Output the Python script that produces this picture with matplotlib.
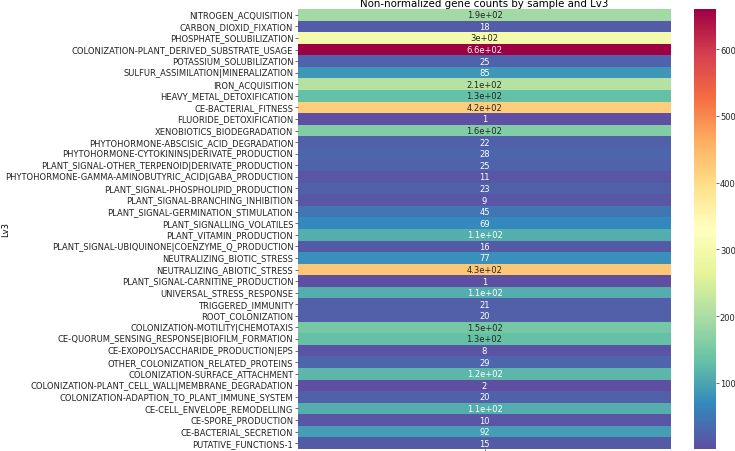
import numpy as np
import pandas as pd
import matplotlib
matplotlib.use("Agg")
import matplotlib.pyplot as plt
import seaborn as sns

# Lv3 categories (rows of the heatmap, top to bottom)
lv3 = [
    "NITROGEN_ACQUISITION",
    "CARBON_DIOXID_FIXATION",
    "PHOSPHATE_SOLUBILIZATION",
    "COLONIZATION-PLANT_DERIVED_SUBSTRATE_USAGE",
    "POTASSIUM_SOLUBILIZATION",
    "SULFUR_ASSIMILATION|MINERALIZATION",
    "IRON_ACQUISITION",
    "HEAVY_METAL_DETOXIFICATION",
    "CE-BACTERIAL_FITNESS",
    "FLUORIDE_DETOXIFICATION",
    "XENOBIOTICS_BIODEGRADATION",
    "PHYTOHORMONE-ABSCISIC_ACID_DEGRADATION",
    "PHYTOHORMONE-CYTOKININS|DERIVATE_PRODUCTION",
    "PLANT_SIGNAL-OTHER_TERPENOID|DERIVATE_PRODUCTION",
    "PHYTOHORMONE-GAMMA-AMINOBUTYRIC_ACID|GABA_PRODUCTION",
    "PLANT_SIGNAL-PHOSPHOLIPID_PRODUCTION",
    "PLANT_SIGNAL-BRANCHING_INHIBITION",
    "PLANT_SIGNAL-GERMINATION_STIMULATION",
    "PLANT_SIGNALLING_VOLATILES",
    "PLANT_VITAMIN_PRODUCTION",
    "PLANT_SIGNAL-UBIQUINONE|COENZYME_Q_PRODUCTION",
    "NEUTRALIZING_BIOTIC_STRESS",
    "NEUTRALIZING_ABIOTIC_STRESS",
    "PLANT_SIGNAL-CARNITINE_PRODUCTION",
    "UNIVERSAL_STRESS_RESPONSE",
    "TRIGGERED_IMMUNITY",
    "ROOT_COLONIZATION",
    "COLONIZATION-MOTILITY|CHEMOTAXIS",
    "CE-QUORUM_SENSING_RESPONSE|BIOFILM_FORMATION",
    "CE-EXOPOLYSACCHARIDE_PRODUCTION|EPS",
    "OTHER_COLONIZATION_RELATED_PROTEINS",
    "COLONIZATION-SURFACE_ATTACHMENT",
    "COLONIZATION-PLANT_CELL_WALL|MEMBRANE_DEGRADATION",
    "COLONIZATION-ADAPTION_TO_PLANT_IMMUNE_SYSTEM",
    "CE-CELL_ENVELOPE_REMODELLING",
    "CE-SPORE_PRODUCTION",
    "CE-BACTERIAL_SECRETION",
    "PUTATIVE_FUNCTIONS-1",
]

# gene counts for the single sample (read from the annotations)
counts = [
    190, 18, 300, 660, 25, 85, 210, 130, 420, 1,
    160, 22, 28, 25, 11, 23, 9, 45, 69, 110,
    16, 77, 430, 1, 110, 21, 20, 150, 130, 8,
    29, 120, 2, 20, 110, 10, 92, 15,
]

sample = ["sample"]

df = pd.DataFrame({sample[0]: counts}, index=pd.Index(lv3, name="Lv3"))

FS = 6.05  # tick / annotation size
W, H = 735, 452
AX_L, AX_R = 298, 671
fig = plt.figure(figsize=(W / 100, H / 100), dpi=100)
ax = fig.add_axes([AX_L / W, (H - 450) / H, (AX_R - AX_L) / W, 440 / H])
cax = fig.add_axes([694 / W, (H - 450) / H, 22 / W, 440 / H])

sns.heatmap(df, ax=ax, cbar_ax=cax, cmap="Spectral_r", annot=True,
            annot_kws={"fontsize": FS})

ax.set_title("Non-normalized gene counts by sample and Lv3", fontsize=7.4, pad=2.0)
ax.set_ylabel("Lv3", fontsize=FS)
# keep "Lv3" inside the canvas, at the far left edge like the reference
ax.yaxis.set_label_coords((1 - AX_L) / (AX_R - AX_L), 0.5)
ax.yaxis.label.set_va("top")
# the x label and sample tick label fall below the visible canvas in the reference
ax.set_xlabel("")
ax.set_xticks([0.5])
ax.set_xticklabels([""])
ax.set_yticks(np.arange(len(lv3)) + 0.5)
ax.set_yticklabels(lv3, fontsize=FS, rotation=0)
ax.tick_params(axis="both", labelsize=FS, length=2.2, width=0.5, pad=1.2,
               colors="#333333", labelcolor="#222222")
cax.tick_params(labelsize=FS, length=2.0, width=0.5, pad=0.8,
                colors="#333333", labelcolor="#222222")

fig.savefig("out.png", dpi=100)
